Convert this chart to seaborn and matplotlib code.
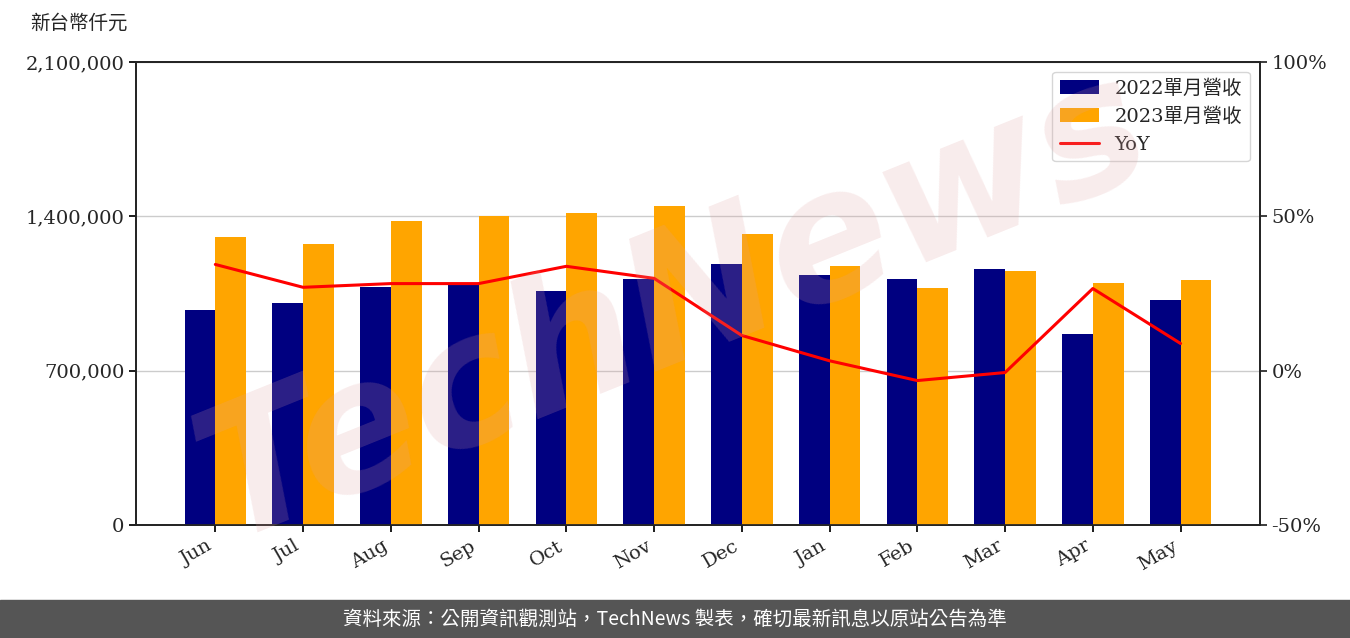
import matplotlib
matplotlib.use("Agg")
import matplotlib.pyplot as plt
import seaborn as sns
import pandas as pd
import numpy as np

months = ["Jun","Jul","Aug","Sep","Oct","Nov","Dec","Jan","Feb","Mar","Apr","May"]
rev2022 = [975000,1007000,1080000,1093000,1061000,1116000,1184000,1134000,1116000,1161000,866000,1020000]
rev2023 = [1306000,1275000,1379000,1401000,1415000,1447000,1320000,1175000,1075000,1152000,1098000,1111000]
yoy = [34.4,27.0,28.2,28.2,33.8,29.9,11.4,3.2,-3.2,-0.6,26.6,8.8]

sns.set_theme(style="white")
plt.rcParams['font.family'] = ['DejaVu Serif', 'Noto Sans CJK TC']

fig = plt.figure(figsize=(13.5, 6.38), dpi=100)
ax = fig.add_axes([0.101, 0.177, 0.832, 0.726])

df = pd.DataFrame({"month": months*2,
                   "value": rev2022 + rev2023,
                   "series": ["2022單月營收"]*12 + ["2023單月營收"]*12})
sns.barplot(data=df, x="month", y="value", hue="series", palette=["#000080", "#FFA500"],
            width=0.7, ax=ax, saturation=1, zorder=3, linewidth=0, edgecolor="none")
ax.set_ylim(0, 2100000)
ax.set_yticks([0, 700000, 1400000, 2100000])
ax.set_yticklabels(["0", "700,000", "1,400,000", "2,100,000"], fontsize=14)
ax.yaxis.grid(True, color="#cccccc", lw=1, zorder=0)
ax.set_xlabel(""); ax.set_ylabel("")
ax.set_xlim(-0.9, 11.9)
plt.setp(ax.get_xticklabels(), rotation=30, ha="right", fontsize=14)
for s in ax.spines.values():
    s.set_color("black"); s.set_linewidth(1.2)
ax.tick_params(axis="both", length=5, color="black", left=True, bottom=True)

ax2 = ax.twinx()
ax2.plot(np.arange(12), yoy, color="red", lw=2.2, label="YoY", zorder=4)
ax2.set_ylim(-50, 100)
ax2.set_yticks([-50, 0, 50, 100])
ax2.set_yticklabels(["-50%", "0%", "50%", "100%"], fontsize=14)
ax2.tick_params(axis="y", length=5, right=True)
ax2.grid(False)

h1, l1 = ax.get_legend_handles_labels()
h2, l2 = ax2.get_legend_handles_labels()
if ax.get_legend(): ax.get_legend().remove()
ax2.legend(h1 + h2, l1 + l2, loc="upper right", frameon=True,
           prop={'family': ['DejaVu Serif', 'Noto Sans CJK TC'], 'size': 14})

fig.text(0.022, 0.955, "新台幣仟元", fontsize=14, family=['Noto Sans CJK TC'])
fig.text(0.5, 0.52, "TechNews", fontsize=130, color="#e0a0a0", alpha=0.2, rotation=22,
         ha="center", va="center", family="DejaVu Sans", fontweight="bold", fontstyle="italic")

fig.patches.append(plt.Rectangle((0, 0), 1, 0.06, transform=fig.transFigure, color="#555555", zorder=0))
fig.text(0.5, 0.03, "資料來源：公開資訊觀測站，TechNews 製表，確切最新訊息以原站公告為準", color="white",
         fontsize=14, ha="center", va="center", family=['Noto Sans CJK TC', 'DejaVu Sans'])

fig.savefig("out.png", dpi=100)
